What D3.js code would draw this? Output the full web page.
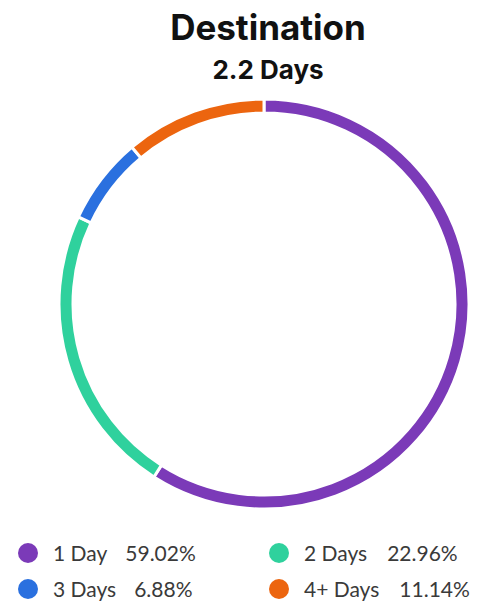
<!DOCTYPE html>
<html>
<head>
<meta charset="utf-8">
<script src="https://cdn.jsdelivr.net/npm/d3@7"></script>
<style>
  html, body { margin: 0; padding: 0; background: #ffffff; }
  svg { display: block; }
</style>
</head>
<body>
<svg id="chart" width="490" height="604"></svg>
<script>
// Trip length split for destination stays
const title = "Destination";
const subtitle = "2.2 Days";
const categories = ["1 Day", "2 Days", "3 Days", "4+ Days"];
const shares = [59.02, 22.96, 6.88, 11.14];
const colors = ["#7b3ab8", "#2fd19d", "#2a70df", "#ec650f"];

const svg = d3.select("#chart");
const cx = 264, cy = 304;
const outerR = 205, innerR = 191;

svg.append("text")
  .attr("x", 268).attr("y", 40)
  .attr("text-anchor", "middle")
  .attr("font-family", "Inter, 'Noto Sans', sans-serif")
  .attr("font-weight", 700)
  .attr("font-size", 35)
  .attr("fill", "#111")
  .text(title);

svg.append("text")
  .attr("x", 268).attr("y", 79)
  .attr("text-anchor", "middle")
  .attr("font-family", "Inter, 'Noto Sans', sans-serif")
  .attr("font-weight", 700)
  .attr("font-size", 26)
  .attr("fill", "#111")
  .text(subtitle);

const data = categories.map((c, i) => ({ label: c, value: shares[i], color: colors[i] }));

const pie = d3.pie().value(d => d.value).sort(null);
const arc = d3.arc().innerRadius(innerR).outerRadius(outerR);

const ring = svg.append("g").attr("transform", `translate(${cx},${cy})`);
ring.selectAll("path")
  .data(pie(data))
  .join("path")
  .attr("d", arc)
  .attr("fill", d => d.data.color)
  .attr("stroke", "#ffffff")
  .attr("stroke-width", 3);

// Legend: two columns, two rows
const legendCols = [28, 279];
const legendRows = [553, 589];
const gaps = [[18, 20], [18, 20]];
const legend = svg.append("g");
data.forEach((d, i) => {
  const col = i % 2, row = Math.floor(i / 2);
  const x = legendCols[col], y = legendRows[row];
  const g = legend.append("g");
  g.append("circle").attr("cx", x).attr("cy", y).attr("r", 10).attr("fill", d.color);
  const t = g.append("text")
    .attr("x", x + 25).attr("y", y + 8)
    .attr("font-family", "Lato, 'Noto Sans', sans-serif")
    .attr("font-size", 21)
    .attr("fill", "#3a3a3a");
  t.append("tspan").text(d.label);
  t.append("tspan").attr("dx", gaps[row][col]).text(d3.format(".2f")(d.value) + "%");
});
</script>
</body>
</html>
